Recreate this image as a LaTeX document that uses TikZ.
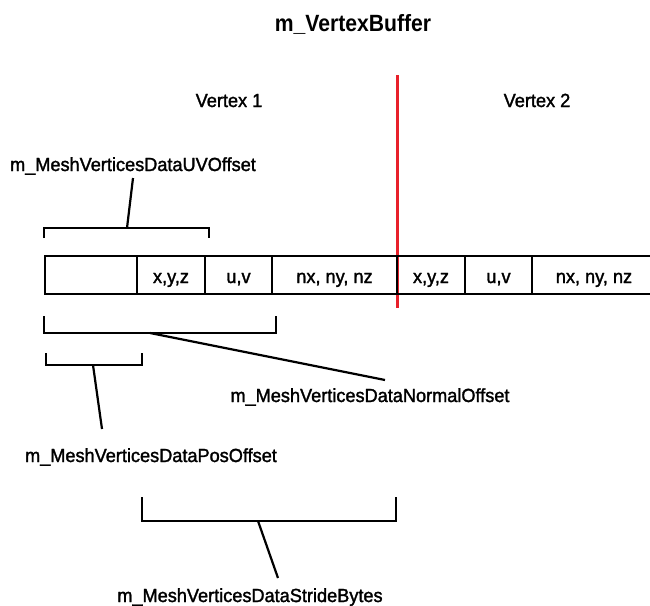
\documentclass[tikz,border=0pt]{standalone}
\usepackage{fontspec}
\setmainfont[FakeStretch=0.955,FakeBold=1.6,BoldFeatures={FakeBold=0,FakeStretch=0.9}]{Liberation Sans}
\begin{document}
\begin{tikzpicture}[x=1pt,y=-1pt,
  lbl/.style={font=\fontsize{19}{22}\selectfont, inner sep=0pt, anchor=base},
  ttl/.style={font=\fontsize{23.5}{26}\selectfont\bfseries, inner sep=0pt, anchor=base},
  ln/.style={line width=2.2pt, black},
  brk/.style={line width=2.2pt, black, line join=miter},
  lead/.style={line width=2.2pt, black}]
\useasboundingbox (0,0) rectangle (650,605);
% red divider
\draw[line width=3pt, color={rgb,255:red,232;green,32;blue,42}] (397,75) -- (397,308);
% buffer row
\draw[ln] (650,256) -- (45,256) -- (45,294) -- (650,294);
\foreach \x in {137,205,272,397,465,532} \draw[ln] (\x,256) -- (\x,294);
\node[lbl] (c1) at (171,283) {x,y,z};
\node[lbl] (c2) at (238.5,283) {u,v};
\node[lbl] (c3) at (334.5,283) {nx, ny, nz};
\node[lbl] (c4) at (431,283) {x,y,z};
\node[lbl] (c5) at (498.5,283) {u,v};
\node[lbl] (c6) at (594,283) {nx, ny, nz};
% titles
\node[ttl] (title) at (353,31) {m\_VertexBuffer};
\node[lbl] (v1) at (229,107) {Vertex 1};
\node[lbl] (v2) at (537,107) {Vertex 2};
% UV offset
\draw[brk] (44,238) -- (44,228) -- (209,228) -- (209,238);
\coordinate (uvb) at (127,228);
\coordinate (uvt) at (133,178);
\node[lbl] (uvl) at (133,171) {m\_MeshVerticesDataUVOffset};
\draw[lead] (uvb) -- (uvt);
% Normal offset
\draw[brk] (44,316) -- (44,333) -- (276,333) -- (276,316);
\coordinate (nb) at (150,333);
\coordinate (nt) at (385,380);
\node[lbl] (nl) at (370,402) {m\_MeshVerticesDataNormalOffset};
\draw[lead] (nb) -- (nt);
% Pos offset
\draw[brk] (46,353) -- (46,365) -- (142,365) -- (142,353);
\coordinate (pb) at (93,365);
\coordinate (pt) at (102,429);
\node[lbl] (pl) at (151,462) {m\_MeshVerticesDataPosOffset};
\draw[lead] (pb) -- (pt);
% Stride
\draw[brk] (142,497) -- (142,521) -- (396,521) -- (396,497);
\coordinate (sb) at (258,521);
\coordinate (st) at (278,578);
\node[lbl] (sl) at (250,602) {m\_MeshVerticesDataStrideBytes};
\draw[lead] (sb) -- (st);
\end{tikzpicture}
\end{document}
